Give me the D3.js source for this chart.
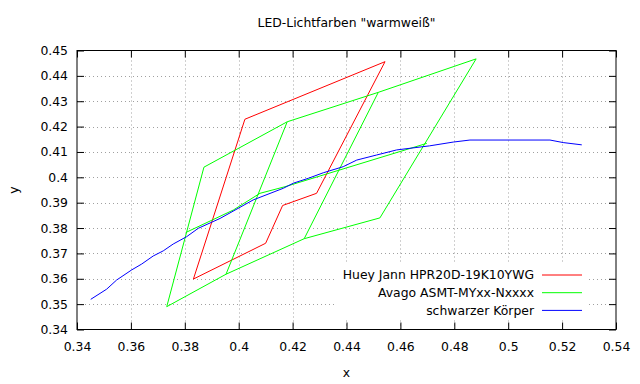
<!DOCTYPE html>
<html>
<head>
<meta charset="utf-8">
<script src="https://cdn.jsdelivr.net/npm/d3@7"></script>
<style>
  body { margin: 0; background: #fff; }
  svg text { font-family: "DejaVu Sans", sans-serif; font-size: 12.4px; fill: #000; }
</style>
</head>
<body>
<svg id="chart" width="640" height="384"></svg>
<script>
var title = 'LED-Lichtfarben "warmweiß"';
var xTicks = [0.34, 0.36, 0.38, 0.4, 0.42, 0.44, 0.46, 0.48, 0.5, 0.52, 0.54];
var yTicks = [0.34, 0.35, 0.36, 0.37, 0.38, 0.39, 0.4, 0.41, 0.42, 0.43, 0.44, 0.45];
var seriesNames = ["Huey Jann HPR20D-19K10YWG", "Avago ASMT-MYxx-Nxxxx", "schwarzer Körper"];
var seriesColors = ["#ff0000", "#00ff00", "#0000ff"];

// Huey Jann bin (closed)
var hueyJann = [
  [[0.3832, 0.3599], [0.4023, 0.4229], [0.4543, 0.4456], [0.4289, 0.3937],
   [0.4163, 0.3889], [0.4100, 0.3740], [0.3832, 0.3599]]
];

// Avago bins: outline, two dividers, center line
var avago = [
  [[0.3733, 0.3490], [0.3871, 0.4040], [0.4180, 0.4219], [0.4518, 0.4335],
   [0.4881, 0.4467], [0.4524, 0.3840], [0.4243, 0.3758], [0.3953, 0.3618], [0.3733, 0.3490]],
  [[0.4180, 0.4219], [0.3953, 0.3618]],
  [[0.4518, 0.4335], [0.4243, 0.3758]],
  [[0.3807, 0.3784], [0.3980, 0.3871], [0.4079, 0.3937], [0.4172, 0.3963], [0.4698, 0.4134]]
];

// Planck locus
var planck = [
  [[0.3451, 0.3519], [0.3510, 0.3559], [0.3547, 0.3595], [0.3603, 0.3635], [0.3640, 0.3658],
   [0.3683, 0.3690], [0.3720, 0.3710], [0.3757, 0.3737], [0.3807, 0.3766], [0.3850, 0.3799],
   [0.3931, 0.3838], [0.4054, 0.3911], [0.4166, 0.3957], [0.4203, 0.3977], [0.4258, 0.3996],
   [0.4314, 0.4018], [0.4388, 0.4042], [0.4438, 0.4068], [0.4512, 0.4088], [0.4586, 0.4108],
   [0.4708, 0.4124], [0.4796, 0.4139], [0.4858, 0.4147], [0.5155, 0.4147], [0.5204, 0.4137],
   [0.5273, 0.4128]]
];

var series = [hueyJann, avago, planck];

var svg = d3.select("#chart");
var margin = {left: 77, right: 24, top: 50.5, bottom: 54.5};
var W = 640, H = 384;

var x = d3.scaleLinear().domain([0.34, 0.54]).range([margin.left, W - margin.right]);
var y = d3.scaleLinear().domain([0.34, 0.45]).range([H - margin.bottom, margin.top]);
var fmt = function(d) { return String(+d.toFixed(2)); };

// grid
var grid = svg.append("g")
  .attr("stroke", "#a0a0a0")
  .attr("stroke-width", 1)
  .attr("stroke-dasharray", "1,3");
grid.selectAll("line.gx")
  .data(xTicks.slice(1, -1))
  .enter().append("line")
    .attr("x1", function(d) { return Math.round(x(d)) + 0.5; })
    .attr("x2", function(d) { return Math.round(x(d)) + 0.5; })
    .attr("y1", y(0.34)).attr("y2", y(0.45));
grid.selectAll("line.gy")
  .data(yTicks.slice(1, -1))
  .enter().append("line")
    .attr("y1", function(d) { return Math.round(y(d)) + 0.5; })
    .attr("y2", function(d) { return Math.round(y(d)) + 0.5; })
    .attr("x1", x(0.34)).attr("x2", x(0.54));

// legend background
svg.append("rect")
  .attr("x", 336).attr("y", 262)
  .attr("width", 252).attr("height", 58)
  .attr("fill", "#fff");

// axes
function styleAxis(g) {
  g.select(".domain").remove();
  g.selectAll(".tick line").attr("stroke", "#000");
  g.selectAll("text").style("font-family", '"DejaVu Sans", sans-serif').style("font-size", "12.4px");
}
svg.append("g")
  .attr("transform", "translate(0," + y(0.34) + ")")
  .call(d3.axisBottom(x).tickValues(xTicks).tickFormat(fmt).tickSize(-7).tickPadding(13))
  .call(styleAxis);
svg.append("g")
  .attr("transform", "translate(0," + y(0.45) + ")")
  .call(d3.axisTop(x).tickValues(xTicks).tickFormat("").tickSize(-7))
  .call(styleAxis);
svg.append("g")
  .attr("transform", "translate(" + x(0.34) + ",0)")
  .call(d3.axisLeft(y).tickValues(yTicks).tickFormat(fmt).tickSize(-7).tickPadding(9))
  .call(styleAxis);
svg.append("g")
  .attr("transform", "translate(" + x(0.54) + ",0)")
  .call(d3.axisRight(y).tickValues(yTicks).tickFormat("").tickSize(-7))
  .call(styleAxis);

svg.append("rect")
  .attr("x", x(0.34)).attr("y", y(0.45))
  .attr("width", x(0.54) - x(0.34)).attr("height", y(0.34) - y(0.45))
  .attr("fill", "none").attr("stroke", "#000").attr("stroke-width", 1);

// data
var line = d3.line().x(function(d) { return x(d[0]); }).y(function(d) { return y(d[1]); });
series.forEach(function(s, i) {
  svg.append("g").selectAll("path")
    .data(s)
    .enter().append("path")
      .attr("d", line)
      .attr("fill", "none")
      .attr("stroke", seriesColors[i])
      .attr("stroke-width", 1);
});

// legend
var legend = svg.append("g");
seriesNames.forEach(function(name, i) {
  var ly = 275 + i * 17.7;
  legend.append("text")
    .attr("x", 534).attr("y", ly).attr("dy", "0.35em")
    .attr("text-anchor", "end")
    .text(name);
  legend.append("line")
    .attr("x1", 542).attr("x2", 582)
    .attr("y1", ly).attr("y2", ly)
    .attr("stroke", seriesColors[i]).attr("stroke-width", 1);
});

// labels
svg.append("text")
  .attr("x", (x(0.34) + x(0.54)) / 2).attr("y", 27)
  .attr("text-anchor", "middle")
  .text(title);
svg.append("text")
  .attr("x", (x(0.34) + x(0.54)) / 2).attr("y", 377)
  .attr("text-anchor", "middle")
  .text("x");
svg.append("text")
  .attr("transform", "translate(18," + ((y(0.34) + y(0.45)) / 2) + ") rotate(-90)")
  .attr("text-anchor", "middle")
  .text("y");
</script>
</body>
</html>
